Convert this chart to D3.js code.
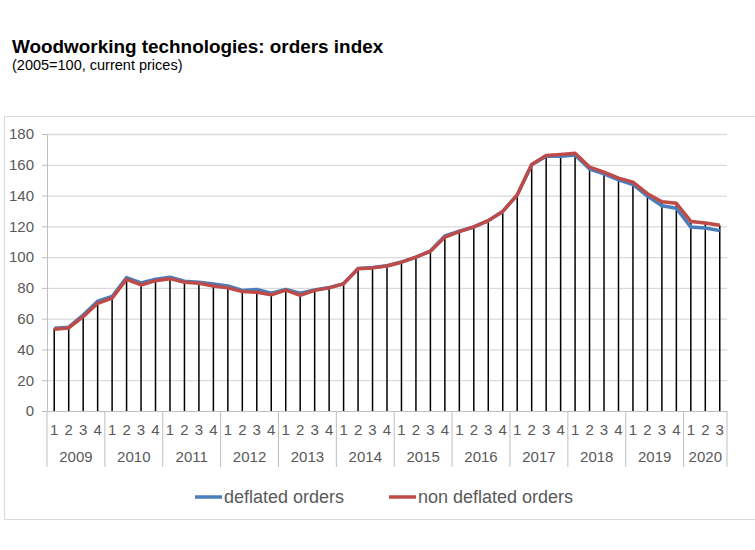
<!DOCTYPE html>
<html>
<head>
<meta charset="utf-8">
<title>Woodworking technologies: orders index</title>
<script src="https://cdnjs.cloudflare.com/ajax/libs/d3/7.8.5/d3.min.js"></script>
<style>
  body { margin: 0; background: #fff; font-family: "Liberation Sans", Arial, sans-serif; }
  .axis text { fill: #595959; font-size: 15px; font-family: "Liberation Sans", Arial, sans-serif; }
  .axis path, .axis line { stroke: #bfbfbf; }
  .grid line { stroke: #d9d9d9; stroke-width: 1.3px; }
  .grid path { display: none; }
</style>
</head>
<body>
<div id="chart"></div>
<script>
// data (quarters 2009Q1 .. 2020Q3)
var years = ['2009', '2010', '2011', '2012', '2013', '2014', '2015', '2016', '2017', '2018', '2019', '2020'];
var quartersPerYear = [4, 4, 4, 4, 4, 4, 4, 4, 4, 4, 4, 3];
var yTicks = [0, 20, 40, 60, 80, 100, 120, 140, 160, 180];

var deflated = [
  53.7, 54.5, 62.4, 71.3,
  74.4, 86.7, 83.2, 85.6,
  86.9, 84.3, 83.6, 82.5,
  81.3, 78.3, 79.0, 76.5,
  79.0, 76.5, 78.6, 80.2,
  82.8, 92.6, 93.2, 94.4,
  96.8, 100.0, 104.0, 113.8,
  116.8, 119.6, 123.7, 129.7,
  140.3, 160.0, 165.5, 165.6,
  166.4, 157.2, 154.1, 150.2,
  147.2, 139.7, 133.4, 131.8,
  119.5, 118.9, 117.2
];
var nonDeflated = [
  53.1, 54.0, 61.3, 70.0,
  73.3, 85.6, 81.9, 84.7,
  86.0, 83.6, 83.0, 81.2,
  80.0, 77.6, 77.2, 75.5,
  78.6, 75.2, 78.4, 80.0,
  82.6, 92.4, 93.0, 94.2,
  96.7, 100.0, 103.8, 113.0,
  116.6, 119.6, 123.7, 129.7,
  140.5, 160.2, 166.0, 166.7,
  167.5, 158.5, 155.2, 151.3,
  148.7, 141.2, 136.0, 135.0,
  123.2, 122.2, 120.7
];

// build the quarter categories from the year list
var categories = [];
years.forEach(function(yr, i) {
  for (var q = 1; q <= quartersPerYear[i]; q++) {
    categories.push({ key: yr + '-' + q, year: yr, q: q });
  }
});

var width = 755, height = 550;
var plotLeft = 47, plotRight = 727, plotTop = 134, plotBottom = 411;

var svg = d3.select('#chart').append('svg')
  .attr('width', width)
  .attr('height', height);

// chart frame
svg.append('rect')
  .attr('x', 4.5).attr('y', 116.5)
  .attr('width', 760).attr('height', 403)
  .attr('fill', 'none')
  .attr('stroke', '#d9d9d9');

// titles
svg.append('text')
  .attr('x', 12).attr('y', 53)
  .attr('font-size', '18.9px')
  .attr('font-weight', 'bold')
  .attr('fill', '#000')
  .text('Woodworking technologies: orders index');
svg.append('text')
  .attr('x', 12).attr('y', 70)
  .attr('font-size', '14.5px')
  .attr('fill', '#000')
  .text('(2005=100, current prices)');

var x = d3.scaleBand()
  .domain(categories.map(function(d) { return d.key; }))
  .range([plotLeft, plotRight])
  .padding(0);

var y = d3.scaleLinear()
  .domain([0, 180])
  .range([plotBottom, plotTop]);

function cx(i) { return x(categories[i].key) + x.bandwidth() / 2; }

// gridlines
svg.append('g')
  .attr('class', 'grid')
  .attr('transform', 'translate(' + plotLeft + ',0)')
  .call(d3.axisLeft(y).tickValues(yTicks.slice(1)).tickSize(-(plotRight - plotLeft)).tickFormat(''));

// y axis
svg.append('g')
  .attr('class', 'axis')
  .attr('transform', 'translate(' + plotLeft + ',0)')
  .call(d3.axisLeft(y).tickValues(yTicks).tickSize(5).tickSizeOuter(0).tickPadding(8));

// drop lines to the higher of the two series
svg.append('g').selectAll('line')
  .data(categories)
  .enter().append('line')
  .attr('x1', function(d, i) { return cx(i); })
  .attr('x2', function(d, i) { return cx(i); })
  .attr('y1', y(0))
  .attr('y2', function(d, i) { return y(Math.max(deflated[i], nonDeflated[i])); })
  .attr('stroke', '#000')
  .attr('stroke-width', 1.5);

// x axis: quarters
svg.append('g')
  .attr('class', 'axis')
  .attr('transform', 'translate(0,' + plotBottom + ')')
  .call(d3.axisBottom(x).tickSize(0).tickSizeOuter(0).tickPadding(13)
    .tickFormat(function(k) { return k.split('-')[1]; }));

// year labels and separators
var xi = 0;
var yearSpans = years.map(function(yr, i) {
  var s = { year: yr, start: xi, end: xi + quartersPerYear[i] - 1 };
  xi += quartersPerYear[i];
  return s;
});
var yearG = svg.append('g').attr('class', 'axis');
yearG.selectAll('text')
  .data(yearSpans)
  .enter().append('text')
  .attr('x', function(d) { return (x(categories[d.start].key) + x(categories[d.end].key) + x.bandwidth()) / 2; })
  .attr('y', 462)
  .attr('text-anchor', 'middle')
  .text(function(d) { return d.year; });
var seps = yearSpans.map(function(d) { return x(categories[d.start].key); });
seps.push(plotRight);
yearG.selectAll('line')
  .data(seps)
  .enter().append('line')
  .attr('x1', function(d) { return d; })
  .attr('x2', function(d) { return d; })
  .attr('y1', plotBottom)
  .attr('y2', 467)
  .attr('stroke', '#d9d9d9');

// series lines
var line = d3.line()
  .x(function(d, i) { return cx(i); })
  .y(function(d) { return y(d); });

svg.append('path')
  .datum(deflated)
  .attr('d', line)
  .attr('fill', 'none')
  .attr('stroke', '#4a7ebb')
  .attr('stroke-width', 3.5)
  .attr('stroke-linejoin', 'round');

svg.append('path')
  .datum(nonDeflated)
  .attr('d', line)
  .attr('fill', 'none')
  .attr('stroke', '#be4b48')
  .attr('stroke-width', 3.5)
  .attr('stroke-linejoin', 'round');

// legend
var legend = [
  { name: 'deflated orders', color: '#4a7ebb', x: 195 },
  { name: 'non deflated orders', color: '#be4b48', x: 389 }
];
var lg = svg.append('g').selectAll('g')
  .data(legend)
  .enter().append('g');
lg.append('line')
  .attr('x1', function(d) { return d.x; })
  .attr('x2', function(d) { return d.x + 27; })
  .attr('y1', 497).attr('y2', 497)
  .attr('stroke', function(d) { return d.color; })
  .attr('stroke-width', 3.5);
lg.append('text')
  .attr('x', function(d) { return d.x + 29; })
  .attr('y', 503)
  .attr('font-size', '18px')
  .attr('fill', '#595959')
  .text(function(d) { return d.name; });
</script>
</body>
</html>
